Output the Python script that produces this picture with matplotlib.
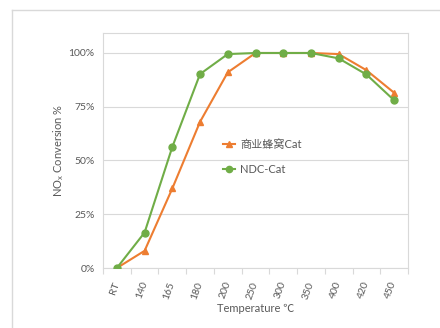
import matplotlib.pyplot as plt
from matplotlib.lines import Line2D
from matplotlib.ticker import FuncFormatter, FixedLocator

plt.rcParams['font.family'] = ['Lato', 'Noto Sans CJK SC', 'DejaVu Sans']

temps = ['RT', '140', '165', '180', '200', '250', '300', '350', '400', '420', '450']
honeycomb = [0.0, 0.08, 0.37, 0.68, 0.91, 1.0, 1.0, 1.0, 0.995, 0.92, 0.815]
ndc = [0.0, 0.165, 0.563, 0.902, 0.995, 1.0, 1.0, 1.0, 0.975, 0.90, 0.78]

orange = '#ED7D31'
green = '#70AD47'
grid_c = '#D9D9D9'
text_c = '#595959'

fig = plt.figure(figsize=(4.4, 3.28), dpi=100)
ax = fig.add_axes([103 / 440, 1 - 268 / 328, 305 / 440, 235 / 328])

x = list(range(len(temps)))
ax.plot(x, honeycomb, color=orange, marker='^', markersize=5, linewidth=1.5,
        label='商业蜂窝Cat', zorder=3)
ax.plot(x, ndc, color=green, marker='o', markersize=5, linewidth=1.5,
        label='NDC-Cat', zorder=4)

ax.set_xlim(-0.5, len(temps) - 0.5)
ax.set_ylim(0, 1.093)
ax.set_yticks([0, 0.25, 0.5, 0.75, 1.0])
ax.yaxis.set_major_formatter(FuncFormatter(lambda v, p: f'{v * 100:.0f}%'))
ax.yaxis.grid(True, color=grid_c, linewidth=0.8)
ax.set_axisbelow(True)

ax.set_xticks(x)
ax.set_xticklabels(temps, rotation=70, ha='right', va='center', rotation_mode='anchor')
ax.xaxis.set_minor_locator(FixedLocator([i - 0.5 for i in range(len(temps) + 1)]))
ax.tick_params(axis='x', which='major', length=0, pad=10, labelsize=7.5, labelcolor=text_c)
ax.tick_params(axis='x', which='minor', length=4, color=grid_c, width=0.8)
ax.tick_params(axis='y', length=0, pad=6, labelsize=7.5, labelcolor=text_c)

for s in ax.spines.values():
    s.set_color(grid_c)
    s.set_linewidth(0.8)

ax.set_xlabel('Temperature ℃', fontsize=8, color=text_c, labelpad=2)
ax.set_ylabel('NO$_\\mathregular{x}$ Conversion %', fontsize=8, color=text_c, labelpad=2)

leg = ax.legend(loc='upper left', bbox_to_anchor=(0.362, 0.59), frameon=False,
                fontsize=8, handlelength=1.0, labelspacing=1.25, handletextpad=0.5,
                markerscale=0.9)
for t in leg.get_texts():
    t.set_color(text_c)

fig.add_artist(Line2D([12 / 440, 12 / 440], [0, 1 - 10 / 328], color=grid_c, linewidth=1))
fig.add_artist(Line2D([12 / 440, 1], [1 - 10 / 328, 1 - 10 / 328], color=grid_c, linewidth=1))

fig.savefig('out.png', dpi=100)
